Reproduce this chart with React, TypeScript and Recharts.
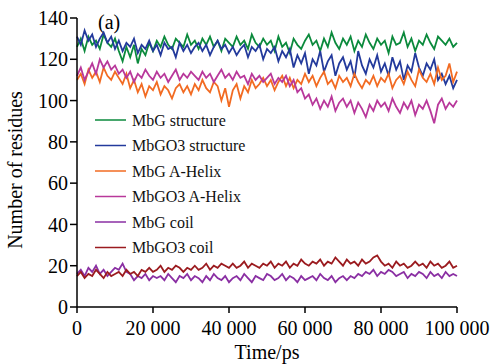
import React from 'react';
import { LineChart, Line, XAxis, YAxis } from 'recharts';

// sample step is 1000 ps, 101 frames from 0 to 100 000 ps
const STEP_PS = 1000;

const mbgStructure = [
  126, 130, 124, 131, 127, 129, 125, 132, 128, 126, 130,
  124, 119, 126, 121, 127, 118, 125, 122, 128, 124,
  129, 126, 131, 127, 125, 130, 128, 126, 132, 127,
  129, 125, 130, 127, 131, 126, 129, 124, 130, 128,
  126, 131, 127, 129, 125, 132, 128, 126, 130, 127,
  129, 124, 131, 126, 128, 123, 130, 127, 125, 129,
  132, 127, 129, 124, 130, 126, 133, 128, 125, 130,
  127, 131, 124, 129, 126, 132, 128, 125, 130, 127,
  129, 123, 131, 127, 128, 133, 126, 130, 124, 129,
  127, 132, 128, 125, 131, 129, 127, 130, 126, 128,
];

const mbgo3Structure = [
  131, 127, 134, 129, 132, 126, 130, 133, 128, 131, 125,
  129, 124, 128, 126, 130, 123, 127, 125, 129, 124,
  127, 122, 128, 125, 126, 121, 128, 124, 127, 123,
  126, 128, 124, 127, 122, 126, 129, 125, 127, 123,
  126, 122, 125, 127, 121, 126, 124, 127, 120, 125,
  123, 126, 119, 124, 121, 125, 116, 122, 118, 123,
  113, 120, 117, 124, 114, 119, 122, 112, 118, 121,
  115, 119, 111, 124, 117, 113, 120, 116, 122, 114,
  118, 112, 121, 115, 119, 110, 117, 114, 123, 116,
  112, 118, 115, 120, 110, 113, 108, 112, 106, 110,
];

const mbgHelix = [
  110, 113, 108, 115, 111, 114, 109, 116, 112, 110, 114,
  111, 108, 113, 106, 110, 104, 108, 102, 107, 105,
  109, 103, 107, 105, 101, 106, 108, 104, 107, 103,
  108, 105, 110, 106, 104, 109, 107, 100, 106, 97,
  105, 108, 101, 107, 104, 110, 106, 108, 111, 107,
  110, 105, 109, 112, 107, 111, 106, 110, 108, 113,
  109, 112, 107, 111, 114, 108, 110, 106, 112, 109,
  111, 107, 113, 109, 106, 110, 108, 112, 107, 111,
  109, 113, 106, 110, 112, 108, 114, 110, 107, 115,
  111, 109, 113, 108, 116, 110, 112, 118, 109, 114,
];

const mbgo3Helix = [
  112, 116, 110, 114, 118, 113, 120, 116, 119, 115, 117,
  113, 115, 111, 114, 109, 113, 111, 115, 112, 110,
  114, 111, 113, 109, 112, 115, 110, 113, 111, 114,
  112, 110, 114, 111, 113, 109, 112, 115, 111, 113,
  110, 114, 111, 112, 108, 113, 110, 112, 109, 111,
  113, 108, 111, 109, 112, 107, 110, 104, 106, 101,
  103, 98, 101, 96, 100, 97, 102, 95, 99, 101,
  97, 100, 94, 99, 96, 92, 98, 95, 100, 97,
  99, 95, 101, 97, 94, 99, 96, 100, 93, 98,
  96, 100, 95, 89, 98, 101, 96, 99, 97, 100,
];

const mbgCoil = [
  16, 18, 15, 19, 17, 20, 16, 18, 15, 17, 19,
  18, 21, 17, 16, 13, 15, 14, 16, 13, 15,
  14, 15, 13, 16, 14, 12, 15, 14, 16, 13,
  15, 14, 12, 15, 13, 16, 14, 13, 15, 12,
  14, 15, 13, 16, 14, 12, 15, 14, 13, 16,
  15, 13, 14, 16, 13, 15, 14, 12, 15, 13,
  14, 15, 13, 16, 14, 13, 15, 12, 14, 15,
  13, 15, 14, 16, 15, 17, 16, 18, 15, 17,
  16, 18, 17, 15, 16, 17, 14, 16, 15, 17,
  16, 14, 17, 15, 16, 14, 17, 15, 16, 15,
];

const mbgo3Coil = [
  15, 17, 14, 16, 15, 18, 16, 14, 17, 15, 16,
  17, 15, 18, 16, 17, 15, 18, 17, 19, 17,
  18, 20, 17, 19, 18, 20, 19, 17, 19, 18,
  20, 18, 19, 21, 18, 20, 19, 21, 20, 19,
  21, 19, 20, 22, 19, 21, 20, 19, 21, 20,
  22, 19, 21, 20, 22, 19, 21, 20, 23, 21,
  20, 22, 21, 23, 20, 22, 21, 24, 22, 20,
  23, 21, 22, 20, 23, 21, 22, 24, 25, 22,
  20, 21, 19, 22, 20, 21, 19, 20, 22, 20,
  21, 19, 22, 20, 21, 19, 20, 22, 19, 20,
];

const xTicks = [0, 20000, 40000, 60000, 80000, 100000];
const yTicks = [0, 20, 40, 60, 80, 100, 120, 140];

const series = [
  { key: 'mbgStructure', name: 'MbG structure', color: '#0b8a3c', values: mbgStructure },
  { key: 'mbgo3Structure', name: 'MbGO3 structure', color: '#233a9c', values: mbgo3Structure },
  { key: 'mbgHelix', name: 'MbG A-Helix', color: '#f26b22', values: mbgHelix },
  { key: 'mbgo3Helix', name: 'MbGO3 A-Helix', color: '#b8389b', values: mbgo3Helix },
  { key: 'mbgCoil', name: 'MbG coil', color: '#8a2fa3', values: mbgCoil },
  { key: 'mbgo3Coil', name: 'MbGO3 coil', color: '#9b1b1f', values: mbgo3Coil },
];

const data = mbgStructure.map((_, i) => {
  const row: Record<string, number> = { time: i * STEP_PS };
  series.forEach((s) => {
    row[s.key] = s.values[i];
  });
  return row;
});

const FONT = '"Liberation Serif", "Times New Roman", serif';

const fmtThousands = (v: number) =>
  String(v).replace(/\B(?=(\d{3})+(?!\d))/g, ' ');

// legend sits inside the plot, drawn straight into the svg
const LegendRows = () => (
  <g>
    {series.map((s, i) => {
      const y = 120 + i * 25.5;
      return (
        <g key={s.key}>
          <line x1={95} x2={126} y1={y} y2={y} stroke={s.color} strokeWidth={1.5} />
          <text x={132} y={y + 5.5} fontSize={16} fontFamily={FONT} fill="#111">
            {s.name}
          </text>
        </g>
      );
    })}
  </g>
);

export default function App() {
  return (
    <div style={{ position: 'absolute', left: 0, top: 0, width: 490, height: 364, background: '#fff' }}>
      <LineChart width={490} height={364} data={data} margin={{ top: 18, right: 33, bottom: 0, left: 0 }}>
        <XAxis
          dataKey="time"
          type="number"
          domain={[0, 100000]}
          ticks={xTicks}
          interval={0}
          tickFormatter={fmtThousands}
          height={57}
          stroke="#000"
          strokeWidth={1.5}
          tickSize={6}
          tickMargin={8}
          tick={{ fill: '#000', fontSize: 20, fontFamily: FONT }}
          label={(props: any) => {
            const vb = props.viewBox || {};
            const cx = (vb.x ?? 77) + (vb.width ?? 380) / 2;
            return (
              <text x={cx} y={359} textAnchor="middle" fill="#000" fontSize={20} fontFamily={FONT}>
                Time/ps
              </text>
            );
          }}
        />
        <YAxis
          domain={[0, 140]}
          ticks={yTicks}
          interval={0}
          width={77}
          stroke="#000"
          strokeWidth={1.5}
          tickSize={7}
          tick={{ fill: '#000', fontSize: 20, fontFamily: FONT }}
          label={() => {
            const cx = 22;
            const cy = 170;
            return (
              <text x={cx} y={cy} transform={`rotate(-90 ${cx} ${cy})`} textAnchor="middle" fill="#000" fontSize={20} fontFamily={FONT}>
                Number of residues
              </text>
            );
          }}
        />
        {series.map((s) => (
          <Line
            key={s.key}
            dataKey={s.key}
            name={s.name}
            stroke={s.color}
            strokeWidth={1.8}
            dot={false}
            type="linear"
            isAnimationActive={false}
          />
        ))}
        <LegendRows />
        <text x={98} y={29} fontSize={20} fontFamily={FONT} fill="#000">(a)</text>
      </LineChart>
    </div>
  );
}
